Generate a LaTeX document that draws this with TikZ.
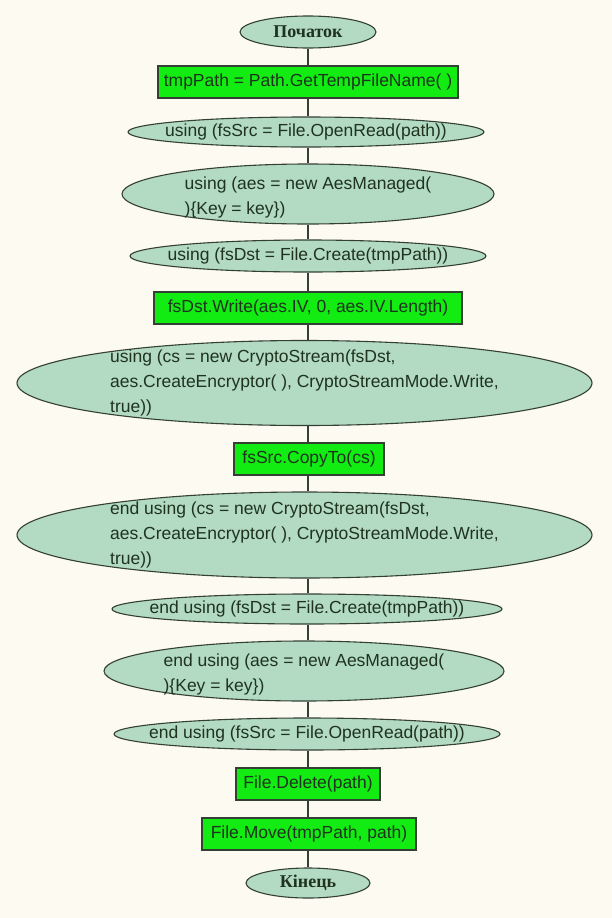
\documentclass[tikz,border=0pt]{standalone}
\usepackage{fontspec}
\setmainfont{Liberation Sans}
\newfontfamily\serifcyr{Liberation Serif}
\usetikzlibrary{shapes.geometric}
\definecolor{bgc}{HTML}{FDFAF1}
\definecolor{ellfill}{HTML}{B3DAC3}
\definecolor{boxfill}{HTML}{12EC12}
\definecolor{edge}{HTML}{334033}
\definecolor{txtc}{HTML}{1F331F}
\tikzset{
  ell/.style={ellipse, draw=edge, line width=1.1pt, fill=ellfill, inner sep=0pt},
  actbox/.style={rectangle, draw=edge, line width=1.1pt, fill=boxfill, inner sep=0pt, minimum height=32pt, text=txtc, font=\fontsize{17.5}{21}\selectfont},
  txt/.style={text=txtc, font=\fontsize{17.5}{25}\selectfont, align=left, inner sep=0pt},
  term/.style={text=txtc, font=\serifcyr\bfseries\fontsize{18}{20}\selectfont, inner sep=0pt},
  conn/.style={draw=edge, line width=1.1pt}
}
\begin{document}
\begin{tikzpicture}[x=1pt,y=-1pt]
\useasboundingbox[fill=bgc] (0,0) rectangle (612,918);
% shapes
\node[ell, minimum width=136pt, minimum height=32pt] (n1) at (308,32) {};
\node[term] (t1) at (n1) {Початок};
\node[actbox, minimum width=300pt] (n2) at (308,82) {tmpPath = Path.GetTempFileName( )};
\node[ell, minimum width=356pt, minimum height=30pt] (n3) at (306,132) {};
\node[txt] (t3) at (n3) {using (fsSrc = File.OpenRead(path))};
\node[ell, minimum width=372pt, minimum height=60pt] (n4) at (308,194) {};
\node[txt] (t4) at ([yshift=-3pt]n4) {using (aes = new AesManaged(\\)\{Key = key\})};
\node[ell, minimum width=356pt, minimum height=32pt] (n5) at (308,256) {};
\node[txt] (t5) at (n5) {using (fsDst = File.Create(tmpPath))};
\node[actbox, minimum width=308pt] (n6) at (308,308) {fsDst.Write(aes.IV, 0, aes.IV.Length)};
\node[ell, minimum width=575pt, minimum height=85pt] (n7) at (304.5,383) {};
\node[txt] (t7) at (n7) {using (cs = new CryptoStream(fsDst,\\aes.CreateEncryptor( ), CryptoStreamMode.Write,\\true))};
\node[actbox, minimum width=150pt] (n8) at (309,459) {fsSrc.CopyTo(cs)};
\node[ell, minimum width=575pt, minimum height=86pt] (n9) at (304.5,535) {};
\node[txt] (t9) at (n9) {end using (cs = new CryptoStream(fsDst,\\aes.CreateEncryptor( ), CryptoStreamMode.Write,\\true))};
\node[ell, minimum width=390pt, minimum height=30pt] (n10) at (307,609) {};
\node[txt] (t10) at (n10) {end using (fsDst = File.Create(tmpPath))};
\node[ell, minimum width=400pt, minimum height=60pt] (n11) at (304,671) {};
\node[txt] (t11) at ([yshift=-3pt]n11) {end using (aes = new AesManaged(\\)\{Key = key\})};
\node[ell, minimum width=386pt, minimum height=32pt] (n12) at (307,734) {};
\node[txt] (t12) at (n12) {end using (fsSrc = File.OpenRead(path))};
\node[actbox, minimum width=144pt] (n13) at (308,784) {File.Delete(path)};
\node[actbox, minimum width=214pt] (n14) at (309,834) {File.Move(tmpPath, path)};
\node[ell, minimum width=124pt, minimum height=30pt] (n15) at (308,883) {};
\node[term] (t15) at (n15) {Кінець};
% connectors
\draw[conn] (n1.south) -- (n1.south |- n2.north);
\draw[conn] (n2.south) -- (n2.south |- n3.north);
\draw[conn] (n3.south -| n2.south) -- (n2.south |- n4.north);
\draw[conn] (n4.south) -- (n4.south |- n5.north);
\draw[conn] (n5.south) -- (n5.south |- n6.north);
\draw[conn] (n6.south) -- (n6.south |- n7.north);
\draw[conn] (n7.south -| n6.south) -- (n6.south |- n8.north);
\draw[conn] (n8.south -| n6.south) -- (n6.south |- n9.north);
\draw[conn] (n9.south -| n6.south) -- (n6.south |- n10.north);
\draw[conn] (n10.south -| n6.south) -- (n6.south |- n11.north);
\draw[conn] (n11.south -| n6.south) -- (n6.south |- n12.north);
\draw[conn] (n12.south -| n6.south) -- (n6.south |- n13.north);
\draw[conn] (n13.south) -- (n13.south |- n14.north);
\draw[conn] (n14.south -| n13.south) -- (n13.south |- n15.north);
\end{tikzpicture}
\end{document}
